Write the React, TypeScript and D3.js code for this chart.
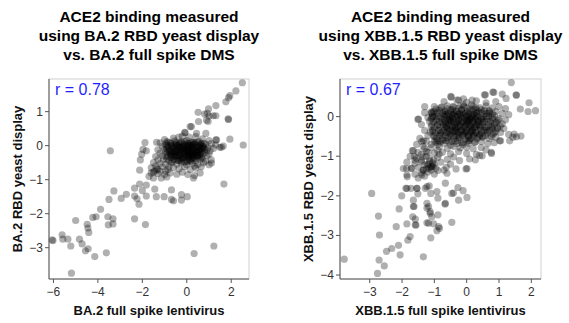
import React from "react";
import * as d3 from "d3";

type P = [number, number];

// Panel 1: BA.2 — sparse points
const ba2Sparse: P[] = [
  [2.5, 1.85], [2.21, 1.61], [1.94, 1.47], [1.88, 1.41], [1.76, 1.29], [1.31, 1.18],
  [0.98, 1.08], [0.92, 0.95], [0.8, 0.93], [1.01, 0.87], [0.89, 0.75], [1.31, 0.88],
  [1.88, 0.77], [0.53, 0.71], [0.15, 0.56], [-0.08, 0.38], [-0.36, 0.25], [1.94, 0.19],
  [2.54, 0.02], [1.34, 0.17], [1.64, -0.01], [1.49, -0.05], [1.67, -1.13], [-1.88, 0.09],
  [-1.97, -0.11], [-2.03, -0.25], [-2.09, -0.42], [-2.12, -0.72], [-3.44, -0.15],
  [-2.12, -1.13], [-2.35, -1.25], [-2.0, -1.32], [-1.82, -1.16], [-1.44, -1.28],
  [-1.37, -1.5], [-1.02, -1.5], [-0.69, -1.3], [-0.69, -1.58], [-0.24, -1.44],
  [-0.24, -1.6], [0.02, -1.5], [-0.6, -1.62], [-1.82, -1.48], [-2.35, -1.48],
  [-2.24, -1.56], [-2.15, -1.72], [-2.95, -1.55], [-2.72, -1.43], [-3.28, -1.33],
  [-3.5, -1.58], [-3.88, -1.87], [-4.08, -2.09], [-4.23, -2.11], [-3.55, -2.09],
  [-3.32, -2.15], [-3.53, -2.33], [-3.32, -2.3], [-4.48, -2.31], [-4.45, -2.42],
  [-4.41, -2.55], [-5.0, -2.2], [-2.35, -2.15], [-1.86, -2.32], [-6.06, -2.77],
  [-6.02, -2.79], [-5.61, -2.62], [-5.58, -2.75], [-5.35, -2.75], [-5.22, -2.95],
  [-4.83, -2.75], [-4.71, -2.89], [-4.56, -3.09], [-4.44, -3.03], [-4.14, -3.26],
  [-3.62, -3.15], [-5.19, -3.75], [0.33, -3.17], [1.22, -2.95], [0.21, 0.56],
  [0.44, 0.36], [0.86, 0.36], [1.31, 0.17], [1.56, -0.05], [1.11, -0.51], [0.51, 0.98],
  [0.96, 0.71], [1.19, 0.88], [1.86, 0.79], [-1.82, -0.15], [-1.36, 0.1], [-0.09, 0.39],
];

// Panel 1: BA.2 — core
const ba2Core: P[] = [
  [-0.6, 0.22], [-0.2, 0.28], [0.1, 0.25], [0.4, 0.27], [0.7, 0.2], [-1.0, 0.18], [1.0, 0.15],
  [-1.2, 0.08], [-0.9, 0.12], [-0.7, 0.05], [-0.5, 0.1], [-0.3, 0.08], [-0.1, 0.12], [0.05, 0.06],
  [0.2, 0.11], [0.35, 0.05], [0.5, 0.1], [0.65, 0.07], [0.85, 0.04], [1.1, 0.06], [1.3, 0.02],
  [-1.1, -0.02], [-0.85, 0.0], [-0.65, -0.03], [-0.45, 0.01], [-0.3, -0.04], [-0.15, 0.0],
  [0.0, -0.02], [0.12, 0.02], [0.28, -0.01], [0.42, -0.05], [0.58, 0.0], [0.75, -0.03],
  [0.95, -0.06], [1.2, -0.08], [-0.55, 0.03], [0.05, 0.0], [-0.2, -0.06], [0.3, 0.03],
  [-1.3, -0.12], [-1.0, -0.1], [-0.8, -0.14], [-0.6, -0.08], [-0.4, -0.12], [-0.25, -0.1],
  [-0.05, -0.13], [0.1, -0.08], [0.25, -0.12], [0.4, -0.1], [0.55, -0.14], [0.7, -0.09],
  [0.9, -0.12], [1.05, -0.15], [-0.1, -0.09], [0.18, -0.15], [-0.5, -0.16],
  [-1.2, -0.22], [-0.95, -0.2], [-0.75, -0.24], [-0.55, -0.2], [-0.35, -0.22], [-0.2, -0.18],
  [0.0, -0.22], [0.15, -0.2], [0.3, -0.24], [0.45, -0.19], [0.6, -0.23], [0.8, -0.2],
  [1.0, -0.25], [-0.1, -0.26], [0.35, -0.17], [0.05, -0.17],
  [-1.4, -0.32], [-1.1, -0.3], [-0.9, -0.33], [-0.7, -0.28], [-0.5, -0.32], [-0.3, -0.3],
  [-0.1, -0.34], [0.1, -0.29], [0.25, -0.33], [0.45, -0.3], [0.65, -0.34], [0.9, -0.3],
  [-0.2, -0.36], [0.3, -0.27],
  [-1.3, -0.42], [-1.05, -0.4], [-0.8, -0.44], [-0.6, -0.4], [-0.4, -0.43], [-0.2, -0.4],
  [0.0, -0.44], [0.2, -0.41], [0.4, -0.45], [0.6, -0.4], [0.85, -0.46], [1.1, -0.42],
  [-1.5, -0.5], [-1.2, -0.52], [-0.95, -0.55], [-0.7, -0.5], [-0.45, -0.54], [-0.25, -0.5],
  [0.0, -0.56], [0.25, -0.52], [0.5, -0.55], [0.75, -0.5], [1.0, -0.56], [0.35, -0.6],
  [-1.6, -0.65], [-1.35, -0.68], [-1.1, -0.62], [-0.85, -0.7], [-0.6, -0.64], [-0.35, -0.68],
  [-0.1, -0.62], [0.15, -0.7], [0.4, -0.66], [0.65, -0.62], [-1.45, -0.75],
  [-1.6, -0.8], [-1.3, -0.82], [-1.0, -0.85], [-0.75, -0.8], [-0.45, -0.84], [-0.2, -0.78],
  [0.05, -0.85], [0.35, -0.88], [0.6, -0.8], [-1.15, -0.95], [-0.9, -0.92], [0.3, -0.95],
  [-1.7, -0.9], [-1.5, -0.95],
  [-0.4, -0.05], [-0.15, -0.15], [0.2, -0.05], [0.45, -0.2], [-0.3, -0.25], [0.1, -0.35],
  [0.5, -0.28], [-0.6, -0.3], [0.25, 0.08], [-0.05, 0.05], [0.6, -0.07], [-0.7, -0.18],
  [0.0, -0.3], [0.15, -0.24], [-0.45, -0.28], [0.35, -0.38], [-0.25, -0.46], [0.7, -0.38],
  [0.05, -0.48], [-0.35, 0.05],
];

// Panel 1: BA.2 — darkest centre of the cloud
const ba2Dense: P[] = [
  [-0.85, 0.1], [-0.55, 0.14], [-0.25, 0.11], [0.0, 0.15], [0.3, 0.1], [0.55, 0.13],
  [-0.95, 0.05], [-0.75, 0.08], [-0.48, 0.04], [-0.22, 0.07], [0.08, 0.05], [0.38, 0.08],
  [0.62, 0.04], [0.78, 0.07],
  [-0.92, 0.0], [-0.7, 0.0], [-0.38, 0.0], [-0.12, 0.0], [0.18, 0.0], [0.48, 0.0], [0.68, 0.0],
  [-0.82, -0.05], [-0.58, -0.05], [-0.32, -0.05], [-0.02, -0.05], [0.22, -0.05], [0.52, -0.05],
  [0.72, -0.05],
  [-0.9, -0.1], [-0.68, -0.1], [-0.45, -0.1], [-0.18, -0.1], [0.05, -0.1], [0.32, -0.1],
  [0.6, -0.1], [0.8, -0.1],
  [-0.78, -0.15], [-0.52, -0.15], [-0.28, -0.15], [0.0, -0.15], [0.28, -0.15], [0.5, -0.15],
  [0.7, -0.15],
  [-0.88, -0.2], [-0.62, -0.2], [-0.4, -0.2], [-0.12, -0.2], [0.1, -0.2], [0.38, -0.2],
  [0.62, -0.2],
  [-0.7, -0.25], [-0.5, -0.25], [-0.2, -0.25], [0.08, -0.25], [0.22, -0.25], [0.5, -0.25],
  [0.72, -0.25],
  [-0.85, -0.3], [-0.6, -0.3], [-0.36, -0.3], [-0.05, -0.3], [0.18, -0.3], [0.4, -0.3],
  [0.58, -0.3],
  [-0.72, -0.35], [-0.45, -0.35], [-0.15, -0.35], [0.05, -0.35], [0.3, -0.35], [0.5, -0.35],
  [-0.9, -0.4], [-0.55, -0.42], [-0.3, -0.38], [0.1, -0.41], [0.28, -0.38],
  [-0.65, -0.47], [-0.35, -0.44], [-0.1, -0.48], [0.15, -0.45],
  [-1.3, -0.7], [-1.2, -0.75], [-1.4, -0.6], [-1.5, -0.78], [-0.95, -0.75], [-0.8, -0.62],
];

// Panel 2: XBB.1.5 — sparse points
const xbbSparse: P[] = [
  [1.38, 0.86], [0.58, 0.55], [0.84, 0.61], [1.1, 0.57], [1.54, 0.54], [1.93, 0.35],
  [2.13, 0.15], [1.9, 0.13], [1.66, 0.19], [-0.49, 0.51], [-0.25, 0.42], [0.17, 0.42],
  [-1.08, 0.1], [-1.51, -0.07], [-1.39, -0.63], [-1.68, -0.86], [-1.61, -1.01],
  [-1.86, -1.31], [-1.96, -1.31], [-1.72, -1.31], [-1.84, -1.52], [-1.34, -1.35],
  [-1.08, -1.26], [-1.02, -1.09], [1.43, -0.52], [1.54, -0.51], [1.68, -0.49], [1.05, -0.61],
  [0.77, -0.93], [0.48, -0.99], [0.27, -1.09], [0.01, -1.31], [-2.94, -1.94], [-2.73, -2.51],
  [-2.7, -2.99], [-3.79, -3.6], [-2.76, -3.96], [-2.71, -3.62], [-2.55, -3.77], [-2.48, -3.4],
  [-2.32, -3.33], [-2.11, -3.25], [-2.18, -2.78], [-2.06, -3.49], [-2.01, -2.0], [-2.09, -2.33],
  [-1.85, -2.71], [-1.82, -3.12], [-1.75, -3.03], [-1.88, -1.81], [-1.72, -1.81],
  [-1.54, -1.81], [-1.51, -1.95], [-1.65, -2.11], [-1.65, -2.27], [-1.67, -2.53],
  [-1.59, -2.59], [-1.57, -2.74], [-1.34, -3.54], [-1.23, -1.77], [-1.16, -1.75],
  [-1.11, -1.94], [-1.23, -2.19], [-1.18, -2.27], [-1.13, -2.4], [-1.08, -2.53],
  [-1.23, -2.68], [-1.02, -2.71], [-1.11, -3.06], [-0.92, -2.88], [-0.87, -2.78],
  [-0.89, -2.48], [-0.89, -2.06], [-0.66, -1.68], [-0.66, -2.19], [-0.46, -2.67],
  [-0.46, -1.94], [-0.27, -1.79], [-0.25, -2.11], [-0.11, -1.87], [0.01, -2.04],
  [-0.92, -1.89], [-0.61, -1.43], [-1.63, -2.27], [-1.59, -2.73], [-1.23, -2.31],
  [-1.13, -2.44], [-1.18, -2.69], [-1.54, -1.81], [-1.28, -1.81], [-1.85, -1.81],
  [-1.39, -1.47], [-1.85, -1.47], [-0.41, -1.93], [-0.67, -2.21], [-0.84, -2.82],
  [1.53, 0.55], [1.22, 0.46], [1.02, -0.61], [1.33, -0.61], [1.47, -0.44], [0.76, -0.9],
  [0.4, -0.98], [0.09, -1.07], [-0.22, -1.11], [-0.33, -1.32], [-0.02, -1.32],
  [-0.63, -1.28], [-0.89, -1.36], [-1.49, -0.06], [-1.13, -0.39], [-1.34, -0.61],
  [-1.65, -0.86], [-1.08, -0.02], [-0.48, 0.49], [0.55, 0.55], [0.81, 0.62],
];

// Panel 2: XBB.1.5 — core
const xbbCore: P[] = [
  [-0.7, 0.38], [-0.3, 0.42], [0.0, 0.36], [0.3, 0.4], [0.6, 0.35], [0.9, 0.38], [-0.1, 0.45],
  [-1.0, 0.25], [-0.8, 0.22], [-0.6, 0.27], [-0.4, 0.24], [-0.2, 0.28], [0.0, 0.22], [0.2, 0.26],
  [0.4, 0.23], [0.6, 0.27], [0.8, 0.22], [1.0, 0.25], [1.2, 0.2],
  [-1.1, 0.12], [-0.9, 0.1], [-0.7, 0.14], [-0.5, 0.11], [-0.3, 0.13], [-0.1, 0.09], [0.1, 0.14],
  [0.3, 0.1], [0.5, 0.12], [0.7, 0.09], [0.9, 0.13], [1.1, 0.08], [1.3, 0.05], [-0.4, 0.06],
  [0.2, 0.05],
  [-1.2, -0.02], [-1.0, 0.0], [-0.8, -0.03], [-0.6, 0.02], [-0.45, -0.02], [-0.3, 0.01],
  [-0.15, -0.03], [0.0, 0.02], [0.15, -0.02], [0.3, 0.01], [0.45, -0.03], [0.6, 0.0],
  [0.8, -0.02], [1.0, -0.05], [1.2, -0.08], [-0.55, -0.06], [0.05, -0.06],
  [-1.15, -0.12], [-0.95, -0.1], [-0.75, -0.14], [-0.55, -0.11], [-0.4, -0.13], [-0.25, -0.1],
  [-0.1, -0.14], [0.05, -0.11], [0.2, -0.13], [0.35, -0.1], [0.5, -0.14], [0.7, -0.11],
  [0.9, -0.15], [1.1, -0.18], [-0.3, -0.17], [0.25, -0.07],
  [-1.1, -0.25], [-0.9, -0.22], [-0.7, -0.26], [-0.5, -0.23], [-0.35, -0.27], [-0.2, -0.24],
  [-0.05, -0.26], [0.1, -0.22], [0.25, -0.27], [0.4, -0.23], [0.55, -0.26], [0.75, -0.24],
  [0.95, -0.28], [1.15, -0.3], [-0.6, -0.3], [0.0, -0.19],
  [-1.05, -0.37], [-0.85, -0.35], [-0.65, -0.39], [-0.45, -0.36], [-0.3, -0.38], [-0.15, -0.35],
  [0.0, -0.39], [0.15, -0.36], [0.3, -0.4], [0.45, -0.35], [0.65, -0.38], [0.85, -0.41],
  [1.05, -0.4], [1.3, -0.45],
  [-1.0, -0.5], [-0.8, -0.47], [-0.6, -0.52], [-0.4, -0.49], [-0.25, -0.53], [-0.1, -0.48],
  [0.05, -0.51], [0.2, -0.47], [0.35, -0.52], [0.5, -0.5], [0.7, -0.55], [0.9, -0.52],
  [-0.5, -0.44], [0.1, -0.56],
  [-1.25, -0.62], [-0.95, -0.65], [-0.75, -0.6], [-0.55, -0.64], [-0.35, -0.62], [-0.15, -0.66],
  [0.05, -0.61], [0.25, -0.65], [0.45, -0.63], [0.65, -0.68], [0.85, -0.66],
  [-1.35, -0.75], [-1.1, -0.78], [-0.85, -0.76], [-0.6, -0.8], [-0.4, -0.75], [-0.2, -0.79],
  [0.0, -0.77], [0.2, -0.81], [0.45, -0.78], [0.6, -0.84],
  [-1.5, -0.9], [-1.25, -0.88], [-1.0, -0.92], [-0.75, -0.9], [-0.5, -0.94], [-0.25, -0.88],
  [0.0, -0.93], [0.3, -0.95],
  [-1.75, -1.0], [-1.55, -1.05], [-1.35, -1.02], [-1.15, -1.06], [-0.9, -1.03], [-0.6, -1.08],
  [-0.4, -1.02],
  [-1.85, -1.15], [-1.6, -1.18], [-1.4, -1.14], [-1.2, -1.2], [-1.05, -1.17], [-0.8, -1.15],
  [-0.5, -1.2],
  [-1.7, -1.3], [-1.5, -1.28], [-1.25, -1.32], [-1.1, -1.27], [-0.95, -1.3], [-0.7, -1.35],
  [-1.2, -1.22], [-1.05, -1.25],
  [-1.6, -1.45], [-1.4, -1.42], [-1.2, -1.4], [-1.0, -1.45], [-1.3, -1.5], [-1.5, -1.55],
  [-1.1, -1.35],
  [-1.3, 0.1], [-1.4, -0.2], [-1.3, -0.35], [-1.2, -0.48], [-1.45, -0.55], [-1.55, -0.7],
  [-1.3, 0.25],
  [-0.5, -0.08], [-0.2, 0.05], [0.1, -0.04], [0.35, -0.2], [-0.35, -0.3], [0.15, -0.3],
  [-0.05, -0.42], [-0.65, -0.18], [0.5, -0.08], [-0.15, 0.18], [0.3, 0.18], [-0.45, 0.18],
  [0.6, -0.35], [-0.8, -0.42], [0.0, -0.1], [-0.25, -0.45], [0.2, -0.42], [0.4, -0.45],
  [-0.7, 0.05], [0.8, -0.3], [-0.1, 0.3], [0.15, 0.3], [0.7, 0.15], [-0.9, -0.6],
];

// Panel 2: XBB.1.5 — darkest part of the cloud
const xbbDense: P[] = [
  [-0.95, 0.19], [-0.78, 0.24], [-0.6, 0.2], [-0.42, 0.26], [-0.25, 0.21], [-0.08, 0.25],
  [0.1, 0.19], [0.28, 0.23], [0.45, 0.18],
  [-1.02, 0.13], [-0.85, 0.16], [-0.66, 0.12], [-0.5, 0.17], [-0.33, 0.14], [-0.16, 0.16],
  [0.02, 0.13], [0.2, 0.17], [0.36, 0.12], [0.55, 0.16], [0.7, 0.12],
  [-1.08, 0.08], [-0.92, 0.08], [-0.74, 0.08], [-0.57, 0.08], [-0.4, 0.08], [-0.22, 0.08],
  [-0.05, 0.08], [0.12, 0.08], [0.3, 0.08], [0.47, 0.08], [0.62, 0.08], [0.8, 0.06],
  [-1.05, 0.01], [-0.88, 0.01], [-0.7, 0.01], [-0.52, 0.01], [-0.35, 0.01], [-0.18, 0.01],
  [0.0, 0.01], [0.16, 0.01], [0.34, 0.01], [0.52, 0.01], [0.68, 0.01], [0.86, 0.03],
  [-1.1, -0.06], [-0.93, -0.06], [-0.76, -0.06], [-0.58, -0.06], [-0.42, -0.06], [-0.24, -0.06],
  [-0.06, -0.06], [0.1, -0.06], [0.28, -0.06], [0.45, -0.06], [0.62, -0.06], [0.8, -0.06],
  [0.98, -0.09],
  [-1.02, -0.13], [-0.84, -0.13], [-0.66, -0.13], [-0.48, -0.13], [-0.3, -0.13], [-0.14, -0.13],
  [0.04, -0.13], [0.2, -0.13], [0.38, -0.13], [0.56, -0.13], [0.74, -0.13], [0.92, -0.13],
  [-1.08, -0.2], [-0.9, -0.2], [-0.72, -0.2], [-0.55, -0.2], [-0.37, -0.2], [-0.2, -0.2],
  [-0.02, -0.2], [0.16, -0.2], [0.32, -0.2], [0.5, -0.2], [0.68, -0.2], [0.86, -0.2],
  [1.04, -0.23],
  [-1.0, -0.27], [-0.82, -0.27], [-0.64, -0.27], [-0.46, -0.27], [-0.28, -0.27], [-0.1, -0.27],
  [0.08, -0.27], [0.25, -0.27], [0.42, -0.27], [0.6, -0.27], [0.78, -0.27], [0.96, -0.3],
  [-1.05, -0.34], [-0.88, -0.34], [-0.7, -0.34], [-0.52, -0.34], [-0.34, -0.34], [-0.17, -0.34],
  [0.0, -0.34], [0.18, -0.34], [0.36, -0.34], [0.54, -0.34], [0.72, -0.34], [0.9, -0.37],
  [-0.98, -0.41], [-0.8, -0.41], [-0.62, -0.41], [-0.44, -0.41], [-0.26, -0.41], [-0.08, -0.41],
  [0.1, -0.41], [0.28, -0.41], [0.46, -0.41], [0.64, -0.41], [0.82, -0.44],
  [-1.02, -0.48], [-0.84, -0.48], [-0.66, -0.48], [-0.48, -0.48], [-0.3, -0.48], [-0.12, -0.48],
  [0.05, -0.48], [0.22, -0.48], [0.4, -0.48], [0.58, -0.48], [0.76, -0.5],
  [-0.95, -0.55], [-0.76, -0.57], [-0.58, -0.54], [-0.4, -0.56], [-0.22, -0.53], [-0.04, -0.57],
  [0.14, -0.54], [0.32, -0.56], [0.5, -0.53],
  [-1.0, -0.62], [-0.82, -0.64], [-0.64, -0.6], [-0.46, -0.63], [-0.28, -0.61], [-0.1, -0.65],
  [0.08, -0.6], [0.26, -0.64],
  [-0.9, -0.7], [-0.7, -0.67], [-0.5, -0.72], [-0.3, -0.68], [-0.12, -0.71], [0.06, -0.67],
  [-0.65, 0.05], [-0.45, 0.05], [-0.28, 0.05], [-0.1, 0.05], [0.06, 0.05], [0.24, 0.05],
  [-0.7, -0.1], [-0.52, -0.1], [-0.34, -0.1], [-0.18, -0.1], [0.0, -0.1], [0.18, -0.1],
  [0.36, -0.1],
  [-0.62, -0.24], [-0.44, -0.24], [-0.26, -0.24], [-0.08, -0.24], [0.12, -0.24], [0.3, -0.24],
  [-0.58, -0.38], [-0.4, -0.38], [-0.22, -0.38], [-0.04, -0.38], [0.14, -0.38],
  [-1.25, -1.0], [-1.4, -1.1], [-1.15, -1.12], [-1.3, -1.22], [-1.0, -1.2], [-1.15, -1.3],
  [-1.35, -1.35], [-1.2, -0.9], [-1.4, -0.95], [-1.6, -1.1], [-0.9, -0.85], [-1.1, -0.7],
  [-1.3, -0.8], [-0.85, -0.95],
];

const ba2XTicks = [-6, -4, -2, 0, 2];
const ba2YTicks = [-3, -2, -1, 0, 1];
const xbbXTicks = [-3, -2, -1, 0, 1, 2];
const xbbYTicks = [-4, -3, -2, -1, 0];

const titles = [
  ["ACE2 binding measured", "using BA.2 RBD yeast display", "vs. BA.2 full spike DMS"],
  ["ACE2 binding measured", "using XBB.1.5 RBD yeast display", "vs. XBB.1.5 full spike DMS"],
];
const xLabels = ["BA.2 full spike lentivirus", "XBB.1.5 full spike lentivirus"];
const yLabels = ["BA.2 RBD yeast display", "XBB.1.5 RBD yeast display"];
const rValues = ["r = 0.78", "r = 0.67"];

const FONT = "'Liberation Sans', Arial, Helvetica, sans-serif";
const fmt = d3.format("");

type PanelProps = {
  points: P[];
  xDomain: [number, number];
  yDomain: [number, number];
  left: number;
  right: number;
  xTicks: number[];
  yTicks: number[];
  title: string[];
  xLabel: string;
  yLabel: string;
  r: string;
};

function Panel(p: PanelProps) {
  const top = 79;
  const bottom = 279;
  const x = d3.scaleLinear().domain(p.xDomain).range([p.left, p.right]);
  const y = d3.scaleLinear().domain(p.yDomain).range([bottom, top]);
  const cx = (p.left + p.right) / 2;
  const cy = (top + bottom) / 2;
  return (
    <g>
      {p.title.map((t, i) => (
        <text key={i} x={cx} y={22 + i * 19} textAnchor="middle" fontFamily={FONT}
          fontWeight="bold" fontSize={15.5} fill="#000">{t}</text>
      ))}
      <rect x={p.left} y={top} width={p.right - p.left} height={bottom - top}
        fill="none" stroke="#d0d0d0" strokeWidth={1} />
      {p.points.map((d, i) => (
        <circle key={i} cx={x(d[0])} cy={y(d[1])} r={3.6} fill="#000" fillOpacity={0.31} />
      ))}
      <line x1={p.left} x2={p.left} y1={top} y2={bottom} stroke="#555" />
      <line x1={p.left} x2={p.right} y1={bottom} y2={bottom} stroke="#555" />
      {p.xTicks.map((t) => (
        <g key={"x" + t}>
          <line x1={x(t)} x2={x(t)} y1={bottom} y2={bottom + 4} stroke="#555" />
          <text x={x(t)} y={bottom + 17} textAnchor="middle" fontFamily={FONT}
            fontSize={12} fill="#333">{fmt(t)}</text>
        </g>
      ))}
      {p.yTicks.map((t) => (
        <g key={"y" + t}>
          <line x1={p.left - 4} x2={p.left} y1={y(t)} y2={y(t)} stroke="#555" />
          <text x={p.left - 6} y={y(t) + 4} textAnchor="end" fontFamily={FONT}
            fontSize={12} fill="#333">{fmt(t)}</text>
        </g>
      ))}
      <text x={p.left + 6} y={95} fontFamily={FONT} fontSize={16} fill="#1f1fff">{p.r}</text>
      <text x={cx} y={315} textAnchor="middle" fontFamily={FONT} fontWeight="bold"
        fontSize={13} fill="#111">{p.xLabel}</text>
      <text transform={`translate(${p.left - 27},${cy}) rotate(-90)`} textAnchor="middle"
        fontFamily={FONT} fontWeight="bold" fontSize={13} fill="#111">{p.yLabel}</text>
    </g>
  );
}

export default function App() {
  return (
    <svg width={569} height={323} style={{ position: "absolute", left: 0, top: 0, background: "#fff" }}>
      <Panel points={[...ba2Sparse, ...ba2Core, ...ba2Dense]} xDomain={[-6.2, 2.8]}
        yDomain={[-3.92, 1.96]} left={49} right={249} xTicks={ba2XTicks} yTicks={ba2YTicks}
        title={titles[0]} xLabel={xLabels[0]} yLabel={yLabels[0]} r={rValues[0]} />
      <Panel points={[...xbbSparse, ...xbbCore, ...xbbDense]} xDomain={[-3.92, 2.3]}
        yDomain={[-4.1, 0.95]} left={340} right={541} xTicks={xbbXTicks} yTicks={xbbYTicks}
        title={titles[1]} xLabel={xLabels[1]} yLabel={yLabels[1]} r={rValues[1]} />
    </svg>
  );
}
